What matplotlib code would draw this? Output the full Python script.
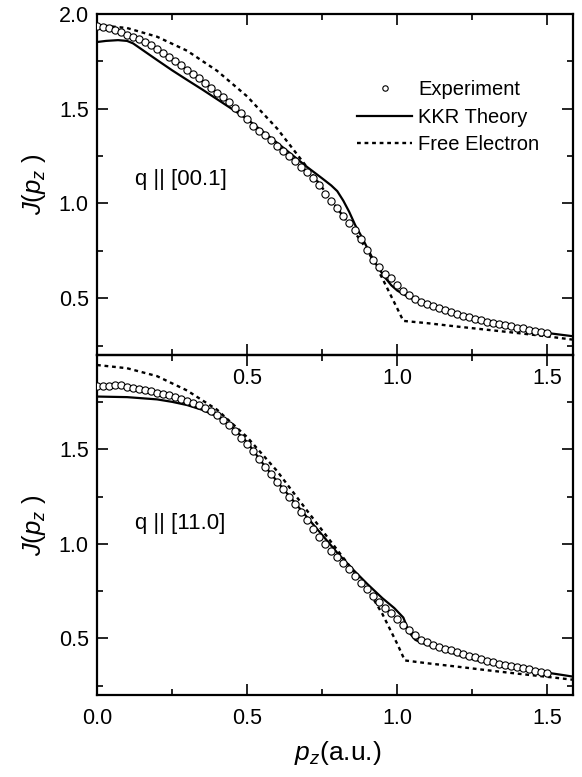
import matplotlib
matplotlib.use("Agg")
import matplotlib.pyplot as plt
from matplotlib.ticker import MultipleLocator, FixedFormatter, FixedLocator

plt.rcParams['font.family'] = ['Liberation Sans', 'DejaVu Sans']
plt.rcParams['mathtext.fontset'] = 'custom'
plt.rcParams['mathtext.rm'] = 'Liberation Sans'
plt.rcParams['mathtext.it'] = 'Liberation Sans:italic'

# ---- q || [00.1] ----
exp_x = [round(0.02 * i, 2) for i in range(76)]
exp_001 = [1.935, 1.932, 1.927, 1.918, 1.905, 1.890, 1.878, 1.866, 1.853, 1.835,
           1.815, 1.795, 1.773, 1.751, 1.729, 1.707, 1.685, 1.661, 1.636, 1.610,
           1.585, 1.560, 1.534, 1.505, 1.478, 1.445, 1.410, 1.383, 1.359, 1.333,
           1.305, 1.278, 1.251, 1.224, 1.195, 1.165, 1.134, 1.095, 1.052, 1.012,
           0.975, 0.935, 0.895, 0.858, 0.812, 0.752, 0.700, 0.662, 0.630, 0.605,
           0.570, 0.538, 0.518, 0.498, 0.480, 0.468, 0.457, 0.446, 0.436, 0.425,
           0.415, 0.407, 0.399, 0.391, 0.383, 0.375, 0.369, 0.363, 0.357, 0.351,
           0.345, 0.340, 0.334, 0.328, 0.322, 0.317]

kkr_x_001 = [0.00, 0.03, 0.07, 0.10, 0.12, 0.15, 0.20, 0.25, 0.30, 0.35, 0.40,
             0.45, 0.50, 0.55, 0.60, 0.65, 0.70, 0.75, 0.78, 0.80, 0.82, 0.84,
             0.86, 0.88, 0.90, 0.92, 0.94, 0.96, 0.98, 1.00, 1.03, 1.06, 1.10,
             1.15, 1.20, 1.25, 1.30, 1.35, 1.40, 1.45, 1.50, 1.55, 1.59]
kkr_001 = [1.852, 1.858, 1.862, 1.858, 1.845, 1.812, 1.757, 1.703, 1.652, 1.602,
           1.550, 1.498, 1.445, 1.382, 1.320, 1.256, 1.192, 1.132, 1.095, 1.065,
           1.015, 0.955, 0.885, 0.828, 0.765, 0.703, 0.652, 0.607, 0.568, 0.540,
           0.512, 0.488, 0.460, 0.434, 0.410, 0.390, 0.366, 0.352, 0.338, 0.326,
           0.316, 0.306, 0.298]

fe_x_001 = [0.00, 0.10, 0.20, 0.30, 0.40, 0.50, 0.60, 0.70, 0.80, 0.90, 0.95,
            1.00, 1.02, 1.10, 1.20, 1.30, 1.40, 1.50, 1.59]
fe_001 = [1.942, 1.926, 1.880, 1.806, 1.700, 1.565, 1.395, 1.190, 0.975, 0.755,
          0.605, 0.445, 0.380, 0.368, 0.350, 0.333, 0.316, 0.298, 0.280]

# ---- q || [11.0] ----
exp_110 = [1.838, 1.835, 1.838, 1.842, 1.840, 1.832, 1.826, 1.820, 1.813, 1.807,
           1.800, 1.794, 1.786, 1.776, 1.766, 1.757, 1.746, 1.733, 1.718, 1.701,
           1.680, 1.655, 1.627, 1.595, 1.561, 1.530, 1.490, 1.450, 1.408, 1.368,
           1.330, 1.290, 1.250, 1.210, 1.170, 1.128, 1.080, 1.035, 0.998, 0.962,
           0.930, 0.898, 0.865, 0.830, 0.795, 0.760, 0.722, 0.692, 0.660, 0.632,
           0.600, 0.572, 0.545, 0.515, 0.490, 0.478, 0.466, 0.456, 0.446, 0.437,
           0.428, 0.418, 0.409, 0.399, 0.390, 0.381, 0.373, 0.366, 0.359, 0.353,
           0.347, 0.341, 0.335, 0.329, 0.323, 0.318]

kkr_x_110 = [0.00, 0.10, 0.20, 0.25, 0.30, 0.35, 0.40, 0.45, 0.50, 0.55, 0.60,
             0.65, 0.70, 0.75, 0.80, 0.85, 0.90, 0.95, 0.99, 1.02, 1.04, 1.06,
             1.08, 1.10, 1.15, 1.20, 1.25, 1.30, 1.35, 1.40, 1.45, 1.50, 1.55, 1.59]
kkr_110 = [1.780, 1.777, 1.765, 1.752, 1.735, 1.710, 1.675, 1.620, 1.538, 1.430,
           1.330, 1.235, 1.140, 1.047, 0.953, 0.868, 0.788, 0.713, 0.660, 0.610,
           0.530, 0.492, 0.477, 0.466, 0.442, 0.413, 0.390, 0.370, 0.355, 0.341,
           0.328, 0.318, 0.306, 0.296]

fe_x_110 = [0.00, 0.10, 0.20, 0.30, 0.40, 0.50, 0.60, 0.70, 0.80, 0.90, 0.95,
            1.00, 1.025, 1.10, 1.20, 1.30, 1.40, 1.50, 1.59]
fe_110 = [1.947, 1.930, 1.888, 1.812, 1.710, 1.565, 1.385, 1.175, 0.968, 0.762,
          0.630, 0.470, 0.383, 0.368, 0.350, 0.331, 0.313, 0.296, 0.280]

labels = ["Experiment", "KKR Theory", "Free Electron"]
panel_text = ["q || [00.1]", "q || [11.0]"]
xticks = [0.0, 0.5, 1.0, 1.5]
yticks = [0.5, 1.0, 1.5, 2.0]

W, H = 582, 777
fig = plt.figure(figsize=(W / 100, H / 100), dpi=100)
ax1 = fig.add_axes([97 / W, 1 - 355 / H, 476 / W, 341 / H])
ax2 = fig.add_axes([97 / W, 1 - 695 / H, 476 / W, 340 / H])

dot_style = (0, (1.6, 1.6))
for ax, ex, kx, ky, fx, fy, txt, ty in [
        (ax1, exp_001, kkr_x_001, kkr_001, fe_x_001, fe_001, panel_text[0], 1.125),
        (ax2, exp_110, kkr_x_110, kkr_110, fe_x_110, fe_110, panel_text[1], 1.11)]:
    ax.plot(exp_x, ex, linestyle='none', marker='o', markersize=5.2,
            markerfacecolor='white', markeredgecolor='black', markeredgewidth=0.8,
            label=labels[0], zorder=3)
    ax.plot(kx, ky, color='black', linewidth=1.6, label=labels[1], zorder=2)
    ax.plot(fx, fy, color='black', linewidth=1.7, linestyle=dot_style,
            label=labels[2], zorder=1)
    ax.set_xlim(0.0, 1.585)
    ax.set_ylim(0.2, 2.0)
    ax.xaxis.set_minor_locator(MultipleLocator(0.25))
    ax.yaxis.set_major_locator(FixedLocator(yticks))
    ax.yaxis.set_minor_locator(MultipleLocator(0.25))
    ax.tick_params(which='both', direction='in', top=True, right=True,
                   labelsize=15.5, width=1.2)
    ax.tick_params(axis='y', pad=6)
    ax.tick_params(axis='x', pad=9)
    ax.tick_params(which='major', length=8)
    ax.tick_params(which='minor', length=4.5)
    for s in ax.spines.values():
        s.set_linewidth(1.6)
    ax.text(0.126, ty, txt, fontsize=16, va='center', ha='left')
    ax.set_ylabel(r'$J(p_z$ )', fontsize=18.5)
    ax.yaxis.set_label_coords(-0.103, 0.5)

# top panel: x labels without the 0.0 and y labels up to 2.0
ax1.xaxis.set_major_locator(FixedLocator(xticks))
ax1.xaxis.set_major_formatter(FixedFormatter(['', '0.5', '1.0', '1.5']))
ax1.yaxis.set_major_formatter(FixedFormatter(['0.5', '1.0', '1.5', '2.0']))
# bottom panel: no 2.0 label on the shared boundary
ax2.xaxis.set_major_locator(FixedLocator(xticks))
ax2.xaxis.set_major_formatter(FixedFormatter(['0.0', '0.5', '1.0', '1.5']))
ax2.yaxis.set_major_formatter(FixedFormatter(['0.5', '1.0', '1.5', '']))
ax2.set_xlabel(r'$p_z$(a.u.)', fontsize=19)
ax2.xaxis.set_label_coords(0.505, -0.13)

ax1.legend(loc='upper left', bbox_to_anchor=(0.546, 0.805), frameon=False,
           fontsize=14.5, borderpad=0, borderaxespad=0, handlelength=2.75,
           handletextpad=0.3, labelspacing=0.42, numpoints=1, markerscale=0.75)

ax1.set_zorder(2)
ax1.patch.set_alpha(0)

fig.savefig("out.png", dpi=100, facecolor='white')
